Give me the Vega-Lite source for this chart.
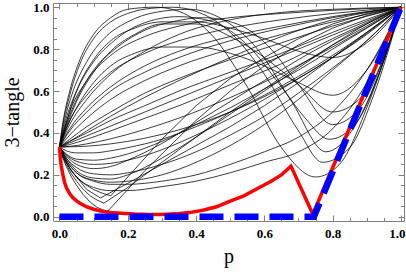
{
  "$schema": "https://vega.github.io/schema/vega-lite/v6.json",
  "width": 351,
  "height": 218,
  "autosize": "none",
  "padding": {"left": 53, "top": 3, "right": 2, "bottom": 52},
  "background": "white",
  "config": {
    "view": {"stroke": "#808080", "strokeWidth": 1},
    "axis": {"grid": false}
  },
  "resolve": {"axis": {"x": "independent", "y": "independent"}},
  "layer": [
    {
      "data": {"values": [
        {"c": "A1", "p": [0,0.01,0.03,0.06,0.1,0.15,0.2,0.28,0.35,0.45,0.55,0.65,0.75,0.82,0.9,1], "v": [0.333,0.45,0.6,0.75,0.87,0.95,0.99,1.0,0.98,0.86,0.62,0.33,0.19,0.25,0.52,1]},
        {"c": "A2", "p": [0,0.01,0.03,0.06,0.1,0.15,0.2,0.27,0.33,0.4,0.5,0.6,0.7,0.77,0.85,0.92,1], "v": [0.333,0.44,0.58,0.73,0.85,0.93,0.97,0.995,1.0,0.98,0.88,0.68,0.41,0.26,0.33,0.58,1]},
        {"c": "A3", "p": [0,0.015,0.04,0.08,0.13,0.2,0.28,0.38,0.48,0.58,0.68,0.78,0.86,0.93,1], "v": [0.333,0.46,0.6,0.74,0.85,0.93,0.975,0.99,0.94,0.8,0.55,0.31,0.42,0.66,1]},
        {"c": "A4", "p": [0,0.02,0.05,0.1,0.16,0.24,0.35,0.45,0.55,0.65,0.72,0.79,0.87,0.94,1], "v": [0.333,0.47,0.6,0.74,0.84,0.92,0.955,0.93,0.82,0.62,0.47,0.37,0.45,0.7,1]},
        {"c": "A5", "p": [0,0.02,0.05,0.1,0.17,0.25,0.33,0.42,0.52,0.62,0.7,0.8,0.88,0.95,1], "v": [0.333,0.44,0.56,0.7,0.81,0.89,0.93,0.95,0.92,0.8,0.63,0.44,0.52,0.76,1]},
        {"c": "A6", "p": [0,0.02,0.05,0.1,0.15,0.22,0.3,0.4,0.5,0.6,0.7,0.8,0.9,1], "v": [0.333,0.43,0.55,0.69,0.79,0.87,0.92,0.92,0.86,0.76,0.63,0.5,0.6,1]},
        {"c": "A7", "p": [0,0.02,0.05,0.1,0.15,0.22,0.3,0.4,0.5,0.6,0.7,0.8,0.9,1], "v": [0.333,0.42,0.52,0.64,0.72,0.78,0.81,0.81,0.78,0.72,0.64,0.58,0.7,1]},
        {"c": "A8", "p": [0,0.02,0.05,0.1,0.15,0.22,0.3,0.4,0.5,0.6,0.7,0.8,0.9,1], "v": [0.333,0.45,0.6,0.75,0.84,0.9,0.93,0.93,0.9,0.85,0.79,0.76,0.83,1]},
        {"c": "B1", "p": [0,0.03,0.08,0.15,0.25,0.35,0.5,0.65,0.8,1], "v": [0.333,0.5,0.65,0.77,0.86,0.91,0.95,0.97,0.985,1]},
        {"c": "B2", "p": [0,0.03,0.08,0.15,0.25,0.35,0.5,0.65,0.8,1], "v": [0.333,0.46,0.58,0.69,0.78,0.84,0.9,0.94,0.97,1]},
        {"c": "B3", "p": [0,0.03,0.08,0.15,0.25,0.35,0.5,0.65,0.8,1], "v": [0.333,0.42,0.52,0.62,0.72,0.79,0.86,0.91,0.955,1]},
        {"c": "B4", "p": [0,0.03,0.08,0.15,0.25,0.35,0.5,0.65,0.8,1], "v": [0.333,0.39,0.47,0.56,0.65,0.72,0.8,0.87,0.93,1]},
        {"c": "B5", "p": [0,0.03,0.08,0.15,0.25,0.35,0.5,0.65,0.8,1], "v": [0.333,0.37,0.43,0.5,0.59,0.66,0.75,0.83,0.91,1]},
        {"c": "B6", "p": [0,0.03,0.08,0.15,0.25,0.35,0.5,0.65,0.8,1], "v": [0.333,0.36,0.4,0.46,0.53,0.6,0.69,0.78,0.88,1]},
        {"c": "B7", "p": [0,0.03,0.08,0.15,0.25,0.35,0.5,0.65,0.8,1], "v": [0.333,0.353,0.386,0.433,0.5,0.567,0.667,0.767,0.867,1]},
        {"c": "B8", "p": [0,0.03,0.08,0.15,0.25,0.35,0.5,0.65,0.8,1], "v": [0.333,0.345,0.37,0.41,0.47,0.53,0.63,0.73,0.85,1]},
        {"c": "B9", "p": [0,0.03,0.08,0.15,0.25,0.35,0.5,0.65,0.8,1], "v": [0.333,0.336,0.348,0.372,0.417,0.471,0.569,0.682,0.81,1]},
        {"c": "B10", "p": [0,0.03,0.08,0.15,0.25,0.35,0.5,0.65,0.8,1], "v": [0.333,0.334,0.337,0.348,0.375,0.415,0.5,0.615,0.76,1]},
        {"c": "B11", "p": [0,0.03,0.08,0.15,0.25,0.35,0.5,0.65,0.8,1], "v": [0.333,0.41,0.5,0.6,0.69,0.76,0.84,0.9,0.95,1]},
        {"c": "B12", "p": [0,0.03,0.08,0.15,0.25,0.35,0.5,0.65,0.8,1], "v": [0.333,0.36,0.41,0.48,0.57,0.65,0.76,0.86,0.94,1]},
        {"c": "B13", "p": [0,0.03,0.08,0.15,0.25,0.35,0.5,0.65,0.8,1], "v": [0.333,0.44,0.56,0.68,0.79,0.87,0.94,0.975,0.99,1]},
        {"c": "C1", "p": [0,0.02,0.05,0.1,0.15,0.2,0.3,0.4,0.5,0.6,0.7,0.8,0.9,1], "v": [0.333,0.315,0.305,0.305,0.315,0.33,0.37,0.43,0.5,0.58,0.67,0.77,0.88,1]},
        {"c": "C2", "p": [0,0.02,0.05,0.1,0.15,0.2,0.3,0.4,0.5,0.6,0.7,0.8,0.9,1], "v": [0.333,0.295,0.265,0.25,0.255,0.27,0.32,0.39,0.47,0.56,0.66,0.76,0.87,1]},
        {"c": "C3", "p": [0,0.02,0.05,0.1,0.15,0.2,0.3,0.4,0.5,0.6,0.7,0.8,0.9,1], "v": [0.333,0.28,0.235,0.205,0.2,0.21,0.25,0.31,0.39,0.48,0.59,0.71,0.84,1]},
        {"c": "C4", "p": [0,0.02,0.05,0.1,0.15,0.2,0.3,0.4,0.5,0.6,0.7,0.8,0.9,1], "v": [0.333,0.27,0.21,0.175,0.165,0.17,0.2,0.26,0.34,0.44,0.56,0.7,0.84,1]},
        {"c": "C5", "p": [0,0.02,0.05,0.1,0.15,0.2,0.3,0.4,0.5,0.6,0.7,0.8,0.9,1], "v": [0.333,0.27,0.21,0.17,0.155,0.155,0.17,0.2,0.25,0.31,0.38,0.5,0.7,1]},
        {"c": "C6", "p": [0,0.02,0.05,0.1,0.15,0.2,0.3,0.4,0.5,0.6,0.7,0.8,0.9,1], "v": [0.333,0.26,0.19,0.14,0.125,0.125,0.144,0.17,0.21,0.26,0.31,0.42,0.64,1]},
        {"c": "C7", "p": [0,0.02,0.05,0.1,0.15,0.2,0.3,0.4,0.5,0.6,0.7,0.8,0.9,1], "v": [0.333,0.29,0.25,0.23,0.24,0.27,0.35,0.45,0.55,0.65,0.75,0.84,0.92,1]},
        {"c": "C8", "p": [0,0.02,0.05,0.1,0.15,0.2,0.3,0.4,0.5,0.6,0.7,0.8,0.9,1], "v": [0.333,0.28,0.22,0.185,0.18,0.2,0.28,0.38,0.49,0.6,0.71,0.82,0.92,1]},
        {"c": "C9", "p": [0,0.02,0.05,0.1,0.15,0.2,0.3,0.4,0.5,0.6,0.7,0.8,0.9,1], "v": [0.333,0.3,0.275,0.27,0.28,0.3,0.36,0.44,0.52,0.61,0.7,0.8,0.9,1]}
      ]},
      "transform": [{"flatten": ["p", "v"]}],
      "mark": {"type": "line", "color": "#000000", "strokeWidth": 0.85, "opacity": 0.9, "interpolate": "monotone", "clip": true},
      "encoding": {
        "x": {"field": "p", "type": "quantitative", "scale": {"domain": [-0.019, 1.009], "nice": false, "zero": false},
          "axis": {"orient": "bottom", "values": [0, 0.2, 0.4, 0.6, 0.8, 1], "format": ".1f", "ticks": false, "domain": false, "labelFlush": false, "labelOverlap": false,
            "labelOffset": {"condition": {"test": "datum.value > 0.99", "value": -4}, "value": 0},
            "labelFont": "Liberation Serif", "labelFontWeight": "bold", "labelFontSize": 13, "labelColor": "#000000", "labelPadding": 6,
            "title": "p", "titleFont": "Liberation Serif", "titleFontSize": 20, "titleFontWeight": "normal", "titleColor": "#000000", "titlePadding": 6}},
        "y": {"field": "v", "type": "quantitative", "scale": {"domain": [-0.02, 1.02], "nice": false, "zero": false},
          "axis": {"orient": "left", "values": [0, 0.2, 0.4, 0.6, 0.8, 1], "format": ".1f", "ticks": false, "domain": false, "labelFlush": false, "labelOverlap": false,
            "labelFont": "Liberation Serif", "labelFontWeight": "bold", "labelFontSize": 13, "labelColor": "#000000", "labelPadding": 4,
            "title": "3−tangle", "titleFont": "Liberation Serif", "titleFontSize": 20, "titleFontWeight": "normal", "titleColor": "#000000", "titlePadding": 10}},
        "detail": {"field": "c", "type": "nominal"}
      }
    },
    {
      "data": {"values": [
        {"c": "D1", "p": [0,0.01,0.02,0.035,0.05,0.07,0.09,0.11,0.14,0.2,0.25,0.3,0.35,0.4,0.45,0.5,0.6,0.7,0.8,0.9,1], "v": [0.333,0.28,0.24,0.19,0.15,0.105,0.07,0.045,0.025,0.13,0.22,0.3,0.38,0.46,0.53,0.6,0.72,0.82,0.9,0.96,1]},
        {"c": "D2", "p": [0,0.01,0.02,0.035,0.05,0.07,0.09,0.11,0.13,0.2,0.25,0.3,0.35,0.4,0.45,0.5,0.6,0.7,0.8,0.9,1], "v": [0.333,0.285,0.25,0.205,0.17,0.13,0.1,0.08,0.065,0.14,0.2,0.26,0.32,0.38,0.44,0.5,0.61,0.72,0.82,0.91,1]},
        {"c": "D3", "p": [0,0.01,0.02,0.035,0.05,0.065,0.08,0.1,0.12,0.2,0.3,0.4,0.5,0.6,0.7,0.8,0.9,1], "v": [0.333,0.29,0.26,0.22,0.19,0.16,0.13,0.11,0.09,0.16,0.25,0.34,0.43,0.53,0.64,0.76,0.88,1]},
        {"c": "D4", "p": [0,0.01,0.02,0.035,0.05,0.075,0.1,0.125,0.15,0.2,0.25,0.3,0.35,0.4,0.5,0.6,0.7,0.8,0.9,1], "v": [0.333,0.29,0.26,0.22,0.19,0.155,0.13,0.113,0.1,0.19,0.28,0.37,0.45,0.53,0.66,0.76,0.85,0.92,0.97,1]}
      ]},
      "transform": [{"flatten": ["p", "v"]}],
      "mark": {"type": "line", "color": "#000000", "strokeWidth": 0.85, "opacity": 0.9, "interpolate": "linear", "clip": true},
      "encoding": {
        "x": {"field": "p", "type": "quantitative",
          "axis": {"orient": "top", "offset": -218, "values": [0,0.05,0.1,0.15,0.2,0.25,0.3,0.35,0.4,0.45,0.5,0.55,0.6,0.65,0.7,0.75,0.8,0.85,0.9,0.95,1], "labels": false, "domain": false, "title": null,
            "tickColor": "#808080", "tickWidth": 1, "tickSize": {"condition": {"test": "abs(datum.value*5 - round(datum.value*5)) < 0.001", "value": 6}, "value": 3.5}}},
        "y": {"field": "v", "type": "quantitative",
          "axis": {"orient": "right", "offset": -351, "values": [0,0.05,0.1,0.15,0.2,0.25,0.3,0.35,0.4,0.45,0.5,0.55,0.6,0.65,0.7,0.75,0.8,0.85,0.9,0.95,1], "labels": false, "domain": false, "title": null,
            "tickColor": "#808080", "tickWidth": 1, "tickSize": {"condition": {"test": "abs(datum.value*5 - round(datum.value*5)) < 0.001", "value": 6}, "value": 3.5}}},
        "detail": {"field": "c", "type": "nominal"}
      }
    },
    {
      "data": {"values": [
        {"p": 0, "v": 0.335}, {"p": 0.002, "v": 0.29}, {"p": 0.005, "v": 0.245}, {"p": 0.01, "v": 0.2},
        {"p": 0.015, "v": 0.165}, {"p": 0.02, "v": 0.14}, {"p": 0.03, "v": 0.11}, {"p": 0.04, "v": 0.09},
        {"p": 0.05, "v": 0.076}, {"p": 0.06, "v": 0.065}, {"p": 0.08, "v": 0.047}, {"p": 0.1, "v": 0.036},
        {"p": 0.12, "v": 0.028}, {"p": 0.15, "v": 0.021}, {"p": 0.18, "v": 0.017}, {"p": 0.22, "v": 0.013},
        {"p": 0.26, "v": 0.011}, {"p": 0.3, "v": 0.011}, {"p": 0.34, "v": 0.014}, {"p": 0.38, "v": 0.02},
        {"p": 0.42, "v": 0.031}, {"p": 0.46, "v": 0.048}, {"p": 0.5, "v": 0.075}, {"p": 0.54, "v": 0.1},
        {"p": 0.58, "v": 0.135}, {"p": 0.62, "v": 0.17}, {"p": 0.65, "v": 0.2}, {"p": 0.678, "v": 0.242},
        {"p": 0.742, "v": 0.012}, {"p": 1, "v": 1}
      ]},
      "mark": {"type": "line", "color": "#ff0000", "strokeWidth": 3.5, "interpolate": "linear", "clip": true},
      "encoding": {
        "x": {"field": "p", "type": "quantitative",
          "axis": {"orient": "bottom", "offset": -218, "values": [0,0.05,0.1,0.15,0.2,0.25,0.3,0.35,0.4,0.45,0.5,0.55,0.6,0.65,0.7,0.75,0.8,0.85,0.9,0.95,1], "labels": false, "domain": false, "title": null,
            "tickColor": "#808080", "tickWidth": 1, "tickSize": {"condition": {"test": "abs(datum.value*5 - round(datum.value*5)) < 0.001", "value": 6}, "value": 3.5}}},
        "y": {"field": "v", "type": "quantitative",
          "axis": {"orient": "left", "offset": -351, "values": [0,0.05,0.1,0.15,0.2,0.25,0.3,0.35,0.4,0.45,0.5,0.55,0.6,0.65,0.7,0.75,0.8,0.85,0.9,0.95,1], "labels": false, "domain": false, "title": null,
            "tickColor": "#808080", "tickWidth": 1, "tickSize": {"condition": {"test": "abs(datum.value*5 - round(datum.value*5)) < 0.001", "value": 6}, "value": 3.5}}}
      }
    },
    {
      "data": {"values": [{"p": 0, "v": 0}, {"p": 0.745, "v": 0}, {"p": 1, "v": 1}]},
      "mark": {"type": "line", "color": "#0000ff", "strokeWidth": 6.5, "strokeDash": [24, 11], "strokeCap": "butt", "interpolate": "linear", "clip": true},
      "encoding": {
        "x": {"field": "p", "type": "quantitative", "axis": null},
        "y": {"field": "v", "type": "quantitative", "axis": null}
      }
    }
  ]
}
